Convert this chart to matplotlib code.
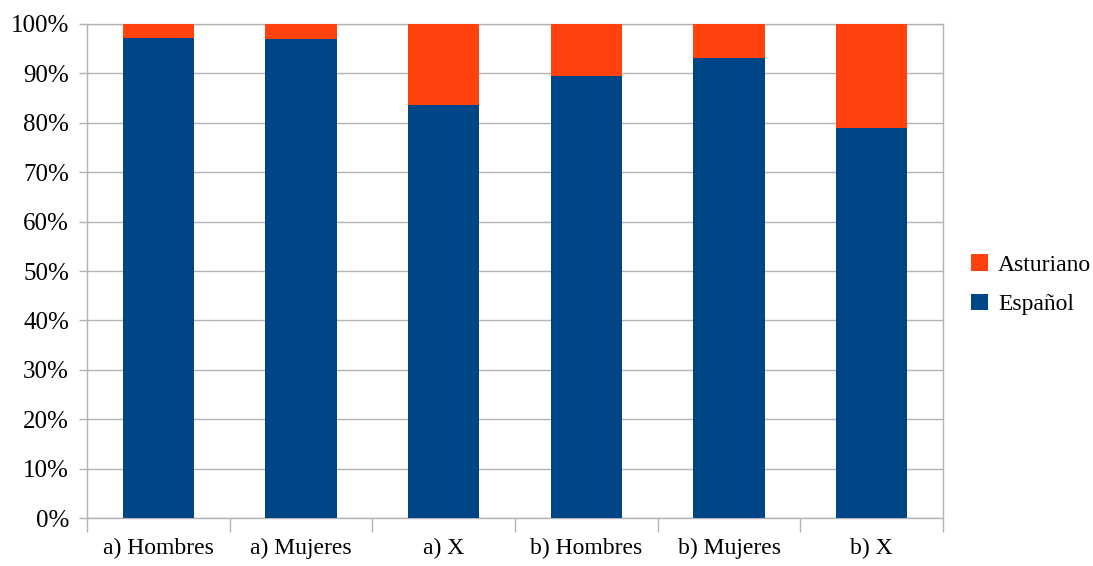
import matplotlib
matplotlib.use("Agg")
import matplotlib.pyplot as plt
import numpy as np

plt.rcParams['font.family'] = ['Liberation Serif', 'DejaVu Serif']

categories = ['a) Hombres', 'a) Mujeres', 'a) X', 'b) Hombres', 'b) Mujeres', 'b) X']
espanol = [97.2, 97.0, 83.6, 89.5, 93.2, 78.9]
asturiano = [2.8, 3.0, 16.4, 10.5, 6.8, 21.1]
y_ticks = [0, 10, 20, 30, 40, 50, 60, 70, 80, 90, 100]

blue = '#004586'
orange = '#ff420e'
grey = '#b3b3b3'

fig = plt.figure(figsize=(10.93, 5.66), dpi=100)
ax = fig.add_axes([0.0796, 0.0848, 0.7832, 0.8728])

x = np.arange(len(categories))
ax.bar(x, espanol, width=0.5, color=blue, label='Español', zorder=3)
ax.bar(x, asturiano, width=0.5, bottom=espanol, color=orange, label='Asturiano', zorder=3)

ax.set_xlim(-0.5, len(categories) - 0.5)
ax.set_ylim(0, 100)
ax.set_yticks(y_ticks)
ax.set_yticklabels([f'{v}%' for v in y_ticks], fontsize=18)
ax.yaxis.grid(True, color=grey, linewidth=1, zorder=0)

# category labels centred, tick marks on boundaries
ax.set_xticks(x)
ax.set_xticklabels(categories, fontsize=17)
ax.tick_params(axis='x', length=0, pad=14)
ax.set_xticks(np.arange(-0.5, len(categories)), minor=True)
ax.tick_params(axis='x', which='minor', length=10, color=grey, width=1)
ax.tick_params(axis='y', length=6, color=grey, width=1, pad=7)

for side in ['top', 'right', 'bottom', 'left']:
    ax.spines[side].set_color(grey)
    ax.spines[side].set_linewidth(1)

handles, labels = ax.get_legend_handles_labels()
fig.legend(handles[::-1], labels[::-1], loc='center left', bbox_to_anchor=(0.869, 0.497),
           frameon=False, fontsize=17, handlelength=0.7, handleheight=0.7,
           handletextpad=0.45, labelspacing=0.75)

fig.savefig('out.png', dpi=100)
